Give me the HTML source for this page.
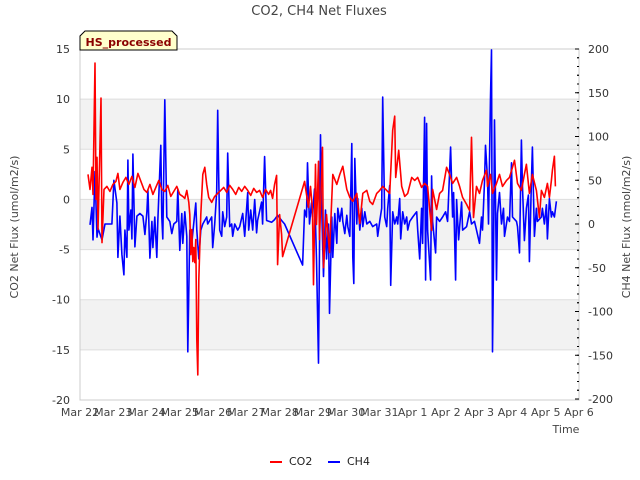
<!DOCTYPE html>
<html><head><meta charset="utf-8"><style>
body{margin:0;background:#fff;}
svg{display:block;font-family:"DejaVu Sans","Liberation Sans",sans-serif;}
</style></head><body>
<svg id="chart" width="640" height="480" viewBox="0 0 640 480">
<text x="319" y="15" text-anchor="middle" font-size="13" fill="#444">CO2, CH4 Net Fluxes</text>
<g id="grid"></g>
<g id="axes"></g>
<defs><clipPath id="clip"><rect x="80" y="49" width="499" height="351"/></clipPath></defs>
<g clip-path="url(#clip)" id="series"></g>
<g>
<path d="M80,50 L80,36 L85,31 L172,31 L177,36 L177,50 Z" fill="#ffffcc" stroke="#000" stroke-width="1"/>
<text x="128.5" y="46" text-anchor="middle" font-size="11" font-weight="bold" fill="#8b0000">HS_processed</text>
</g>
<text transform="translate(18,227) rotate(-90)" text-anchor="middle" font-size="11" fill="#444">CO2 Net Flux (umol/m2/s)</text>
<text transform="translate(630,227) rotate(-90)" text-anchor="middle" font-size="11" fill="#444">CH4 Net Flux (nmol/m2/s)</text>
<text x="566" y="433" text-anchor="middle" font-size="11" fill="#444">Time</text>
<g>
<g><line x1="270" y1="462" x2="282" y2="462" stroke="#f00" stroke-width="2"/><text x="289" y="465" font-size="11" fill="#222">CO2</text></g>
<g><line x1="328" y1="462" x2="340" y2="462" stroke="#00f" stroke-width="2"/><text x="347" y="465" font-size="11" fill="#222">CH4</text></g>
</g>
</svg>
<script>
const xTickLabels=["Mar 22","Mar 23","Mar 24","Mar 25","Mar 26","Mar 27","Mar 28","Mar 29","Mar 30","Mar 31","Apr 1","Apr 2","Apr 3","Apr 4","Apr 5","Apr 6"];
const leftTicks=[15,10,5,0,-5,-10,-15,-20];
const rightTicks=[200,150,100,50,0,-50,-100,-150,-200];
const co2Days=[0.24,0.30,0.36,0.39,0.45,0.48,0.51,0.54,0.57,0.63,0.66,0.72,0.81,0.90,0.99,1.08,1.14,1.20,1.29,1.38,1.47,1.56,1.65,1.74,1.83,1.92,2.01,2.10,2.19,2.28,2.37,2.46,2.55,2.64,2.73,2.82,2.91,3.00,3.09,3.15,3.21,3.27,3.30,3.33,3.36,3.39,3.42,3.45,3.48,3.51,3.54,3.57,3.63,3.69,3.75,3.81,3.87,3.96,4.05,4.14,4.23,4.32,4.41,4.50,4.59,4.68,4.77,4.86,4.95,5.04,5.13,5.22,5.31,5.40,5.49,5.58,5.67,5.73,5.79,5.85,5.91,5.94,6.00,6.06,6.09,6.75,6.81,6.87,6.93,6.99,7.02,7.08,7.11,7.14,7.17,7.20,7.29,7.32,7.41,7.50,7.60,7.72,7.81,7.90,8.02,8.11,8.20,8.32,8.41,8.50,8.62,8.71,8.80,8.92,9.01,9.10,9.22,9.31,9.40,9.46,9.49,9.58,9.67,9.76,9.85,9.97,10.06,10.15,10.27,10.36,10.45,10.57,10.60,10.72,10.81,10.90,11.02,11.11,11.20,11.32,11.41,11.50,11.62,11.71,11.77,11.83,11.92,12.01,12.10,12.22,12.25,12.34,12.40,12.52,12.61,12.70,12.82,12.91,13.00,13.06,13.15,13.27,13.36,13.42,13.51,13.60,13.72,13.81,13.87,13.96,14.05,14.11,14.17,14.20,14.26,14.29];
const co2Values=[2.5,1.0,3.2,0.5,13.6,0.0,4.2,-3.0,1.2,10.1,-4.3,1.0,1.3,0.8,1.5,1.8,2.6,1.0,1.7,2.2,1.5,2.3,1.2,2.6,1.8,1.0,0.7,1.5,0.5,1.2,1.9,1.0,0.8,1.4,0.3,0.8,1.3,0.5,0.3,0.1,0.9,-0.3,-1.5,-5.5,-3.0,-6.2,-4.8,-6.3,-4.0,-14,-17.5,-8,-1.5,2.5,3.2,1.5,0.2,-0.3,0.3,0.6,0.9,1.2,0.7,1.4,1.0,0.5,1.2,0.8,1.3,0.9,0.4,1.1,0.7,0.9,0.2,1.0,0.5,0.9,0.1,1.5,2.4,-6.5,-1.5,-3.5,-5.7,1.8,0.5,-0.8,1.3,-1.0,-8.5,3.5,-2.5,0.4,3.8,-4.0,5.2,-6.8,-1.5,-5.3,2.5,1.5,2.5,3.3,1.0,0.2,-0.2,0.6,-2.4,0.6,0.9,-0.2,-0.5,0.6,0.9,1.3,0.9,0.6,6.9,8.3,2.2,4.9,1.3,0.3,0.6,2.2,1.9,2.2,1.2,1.6,1.3,-3.1,1.0,-1.0,0.6,0.9,3.2,2.5,1.6,2.2,1.3,0.2,-0.5,-1.1,6.2,-1.8,1.3,0.6,1.9,2.9,1.3,2.5,0.6,1.6,2.5,1.3,1.9,2.2,3.2,3.9,1.6,0.9,2.5,3.5,0.6,2.5,0.9,-1.8,0.9,0.2,1.6,0.2,1.9,2.9,4.3,1.3];
const ch4Days=[0.30,0.36,0.39,0.45,0.51,0.54,0.66,0.75,0.96,1.02,1.11,1.14,1.20,1.26,1.32,1.35,1.41,1.44,1.47,1.53,1.56,1.59,1.65,1.71,1.80,1.89,1.95,2.01,2.04,2.10,2.16,2.19,2.25,2.31,2.34,2.43,2.46,2.49,2.55,2.61,2.70,2.76,2.82,2.91,2.94,3.00,3.06,3.09,3.15,3.21,3.24,3.30,3.36,3.39,3.48,3.51,3.57,3.63,3.69,3.81,3.84,3.96,3.99,4.05,4.11,4.14,4.17,4.20,4.26,4.29,4.35,4.41,4.44,4.50,4.56,4.59,4.65,4.74,4.80,4.89,4.95,5.04,5.07,5.13,5.19,5.25,5.31,5.34,5.46,5.49,5.55,5.61,5.76,5.85,5.94,6.06,6.15,6.69,6.75,6.81,6.84,6.90,6.96,6.99,7.05,7.11,7.17,7.23,7.26,7.32,7.38,7.41,7.47,7.50,7.57,7.60,7.66,7.72,7.75,7.81,7.87,7.90,7.96,8.02,8.05,8.11,8.17,8.20,8.23,8.26,8.32,8.35,8.41,8.47,8.50,8.56,8.62,8.71,8.80,8.92,8.95,9.01,9.07,9.10,9.16,9.22,9.25,9.31,9.34,9.40,9.46,9.52,9.55,9.61,9.64,9.70,9.76,9.82,9.85,9.91,10.00,10.12,10.15,10.21,10.27,10.30,10.36,10.39,10.42,10.45,10.54,10.57,10.60,10.69,10.72,10.81,10.90,10.99,11.05,11.14,11.20,11.23,11.29,11.32,11.38,11.47,11.50,11.62,11.71,11.77,11.86,11.92,12.01,12.07,12.10,12.16,12.19,12.25,12.28,12.34,12.37,12.40,12.43,12.46,12.52,12.55,12.61,12.67,12.73,12.76,12.85,12.91,12.97,13.00,13.12,13.15,13.21,13.27,13.30,13.36,13.42,13.48,13.51,13.57,13.60,13.66,13.72,13.75,13.87,13.90,13.96,14.02,14.05,14.11,14.17,14.20,14.26,14.32];
const ch4Values=[-1,19,-18,60,-15,-5,-18,0,0,50,24,-38,9,-35,-58,-7,-38,73,-7,16,-17,80,-26,9,12,9,-12,14,39,-39,3,-27,8,-38,3,90,8,-17,142,8,3,-11,0,3,40,-30,12,-22,14,-14,-146,-7,-22,-10,24,-7,-40,-7,0,8,0,8,-27,0,37,130,55,-7,-14,14,-3,8,81,-3,0,-14,0,-7,-3,12,-14,36,-7,16,-7,28,-10,4,25,0,77,4,2,5,10,4,0,-47,16,8,70,0,24,8,40,-40,-159,102,28,-60,16,-40,0,-102,8,-38,12,-22,18,3,18,3,-11,10,-3,-14,92,-38,-68,75,0,29,-7,18,-3,14,0,3,-3,0,-14,3,18,145,8,-3,18,44,-70,14,0,8,0,29,-17,14,0,8,-7,3,8,14,-7,-40,18,-22,122,-64,115,-7,-64,55,3,-33,8,3,8,14,3,88,8,36,-64,28,-18,25,-7,-3,14,0,3,-7,-22,8,-7,48,90,52,0,145,199,-146,-45,119,-64,12,36,0,18,-14,8,3,70,8,3,-3,-33,96,45,-19,18,33,-43,48,88,-14,18,3,8,18,0,22,-17,29,8,14,8,26];

const NS="http://www.w3.org/2000/svg";
const PX0=80,PX1=579,PY0=49,PY1=400;
const xS=d=>PX0+d*(PX1-PX0)/15;
const yL=v=>PY0+(15-v)*(PY1-PY0)/35;
const yR=v=>PY0+(200-v)*(399-PY0)/400;
function mk(tag,attrs,parent){const e=document.createElementNS(NS,tag);for(const k in attrs)e.setAttribute(k,attrs[k]);parent.appendChild(e);return e;}
const grid=document.getElementById('grid'),axes=document.getElementById('axes'),series=document.getElementById('series');
// shaded bands
[[10,5],[0,-5],[-10,-15]].forEach(b=>{
 const r=mk('rect',{x:PX0,y:yL(b[0]),width:PX1-PX0,height:yL(b[1])-yL(b[0]),fill:'#f2f2f2'},grid);
 
 
});
leftTicks.forEach(v=>{
 const l=mk('line',{x1:PX0,x2:PX1,y1:yL(v),y2:yL(v),stroke:'#ddd','stroke-width':1},grid);
 
 
 const t=mk('text',{x:PX0-10,y:yL(v)+4,'text-anchor':'end','font-size':11,fill:'#333'},axes);
 t.textContent=v;
 
 
});
mk('rect',{x:PX0,y:PY0,width:PX1-PX0,height:PY1-PY0,fill:'none',stroke:'#ccc','stroke-width':1},axes);
rightTicks.forEach(v=>{
 const t=mk('text',{x:588,y:yR(v)+4,'font-size':11,fill:'#333'},axes);
 t.textContent=v;
 
 
});
for(let v=-200;v<=200;v+=10){
 const major=v%50===0;
 mk('line',{x1:PX1,x2:PX1-(major?4:2)+ (major?0:0),y1:yR(v),y2:yR(v),stroke:'#000','stroke-width':1},axes);
 mk('line',{x1:PX1-(major?0:0),x2:PX1-2,y1:yR(v),y2:yR(v),stroke:'#000','stroke-width':1},axes);
}
xTickLabels.forEach((s,i)=>{
 const t=mk('text',{x:xS(i),y:416,'text-anchor':'middle','font-size':11,fill:'#444'},axes);
 t.textContent=s;
 
 
});
function line(days,vals,ys,color,name){
 const d=days.map((t,i)=>(i?'L':'M')+xS(t).toFixed(1)+','+ys(vals[i]).toFixed(1)).join('');
 const p=mk('path',{d:d,fill:'none',stroke:color,'stroke-width':1.6,'stroke-linejoin':'round'},series);
 
 
}
line(ch4Days,ch4Values,yR,'#0000ff','ch4-line');
line(co2Days,co2Values,yL,'#ff0000','co2-line');
</script>
</body></html>
